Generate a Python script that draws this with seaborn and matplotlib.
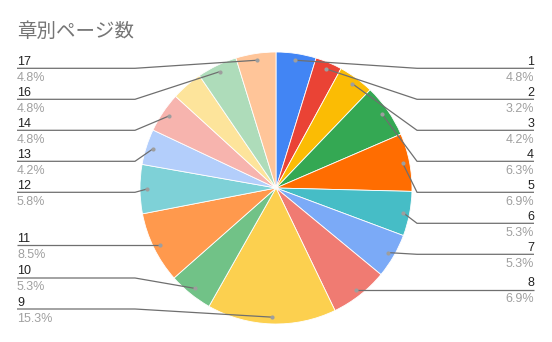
import numpy as np
import matplotlib
matplotlib.use("Agg")
import matplotlib.pyplot as plt
import seaborn as sns

title = "章別ページ数"
chapters = ["1", "2", "3", "4", "5", "6", "7", "8", "9", "10", "11", "12", "13", "14", "15", "16", "17"]
pages = [9, 6, 8, 12, 13, 10, 10, 13, 29, 10, 16, 11, 8, 9, 7, 9, 9]
hidden_labels = ["15"]
colors = ["#4285F4", "#EA4335", "#FBBC04", "#34A853", "#FF6D01", "#46BDC6", "#7BAAF7",
          "#F07B72", "#FCD04F", "#71C287", "#FF994D", "#7ED1D7", "#B3CEFB", "#F7B4AE",
          "#FDE49B", "#AEDCBA", "#FFC599"]

sns.set_theme(style="white")
plt.rcParams["font.family"] = ["Liberation Sans", "Noto Sans CJK JP", "DejaVu Sans"]

W, H = 552, 342
fig = plt.figure(figsize=(W / 100, H / 100), dpi=100)
ax = fig.add_axes([0, 0, 1, 1])

cx, cy_px, R = 276, 188, 136
cy = H - cy_px
ax.pie(pages, colors=colors, startangle=90, counterclock=False, center=(cx, cy),
       radius=R, wedgeprops=dict(edgecolor="white", linewidth=0.6), frame=True)
ax.set_xlim(0, W)
ax.set_ylim(0, H)
ax.axis("off")

total = sum(pages)
cum = np.cumsum([0] + pages)
items = []
for i, (c, v) in enumerate(zip(chapters, pages)):
    mid = (cum[i] + v / 2) / total * 360.0  # clockwise from top
    r = 0.95 * R
    dx = r * np.sin(np.radians(mid))
    dy = r * np.cos(np.radians(mid))
    px, py_px = cx + dx, cy_px - dy
    side = "R" if mid < 180 else "L"
    items.append(dict(name=c, pct=v / total * 100, px=px, py=py_px, side=side, hidden=c in hidden_labels))

top, bottom, gap = 68.3, 309, 31
for side in ["R", "L"]:
    s = sorted([it for it in items if it["side"] == side and not it["hidden"]], key=lambda d: d["py"])
    ys = [it["py"] for it in s]
    prev = top - gap
    for k in range(len(ys)):
        ys[k] = max(ys[k], prev + gap)
        prev = ys[k]
    nxt = bottom + gap
    for k in range(len(ys) - 1, -1, -1):
        ys[k] = min(ys[k], nxt - gap)
        nxt = ys[k]
    for it, y in zip(s, ys):
        it["ly"] = y

line_c = "#6f6f6f"
for it in items:
    if it["hidden"]:
        continue
    ly = it["ly"]
    if it["side"] == "R":
        elbow, end, ha, tx = 417, 534, "right", 534
    else:
        elbow, end, ha, tx = 135, 17, "left", 17
    ax.plot([it["px"], elbow, end], [H - it["py"], H - ly, H - ly], color=line_c, lw=0.9,
            solid_capstyle="butt", zorder=3)
    ax.scatter([it["px"]], [H - it["py"]], s=9, color="#9e9e9e", zorder=4, linewidths=0)
    ax.text(tx, H - (ly - 3.5), it["name"], ha=ha, va="baseline", fontsize=9, color="#222222")
    ax.text(tx, H - (ly + 12.5), f"{it['pct']:.1f}%", ha=ha, va="baseline", fontsize=9, color="#a0a0a0")

ax.text(17, H - 37, title, ha="left", va="baseline", fontsize=14, color="#757575",
        family=["Noto Sans CJK JP", "DejaVu Sans"])

fig.savefig("out.png", dpi=100, facecolor="white")
